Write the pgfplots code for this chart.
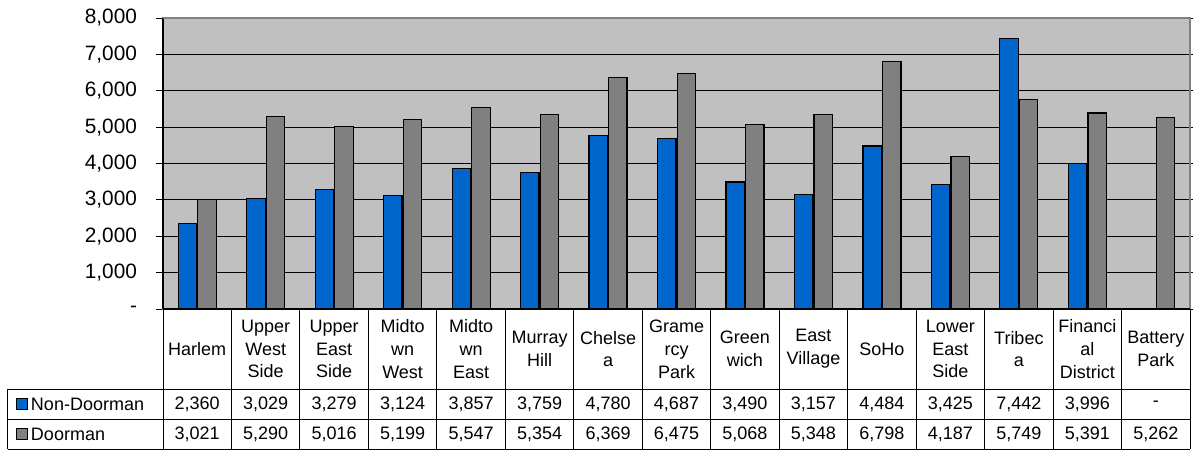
\documentclass[border=0pt]{standalone}
\usepackage{pgfplots}
\pgfplotsset{compat=1.18}
\usepackage{fontspec}
\setmainfont{Liberation Sans}
\definecolor{bblue}{HTML}{0066CC}
\definecolor{bgray}{HTML}{808080}
\definecolor{bgfill}{HTML}{C0C0C0}
\begin{document}
\begin{tikzpicture}
\path[use as bounding box] (-81.5pt,154.5pt) rectangle (515pt,-70.5pt);
\begin{axis}[at={(0pt,0pt)}, anchor=south west, scale only axis,
  width=513.5pt, height=145.5pt,
  xmin=-0.5, xmax=14.5, ymin=0, ymax=8000,
  ybar=0.6pt, bar width=9.2pt,
  xtick=\empty,
  ytick={0,1000,...,8000},
  yticklabels={-,{1,000},{2,000},{3,000},{4,000},{5,000},{6,000},{7,000},{8,000}},
  ymajorgrids, major grid style={black, line width=0.5pt},
  axis background/.style={fill=bgfill},
  axis line style={bgray, line width=0.6pt},
  tick align=outside, major tick length=3.5pt,
  ytick style={black, line width=0.5pt},
  yticklabel style={font=\fontsize{10.4}{12}\selectfont, xshift=-6pt},
  clip=false]
\addplot[fill=bblue, draw=black, line width=0.6pt] coordinates {
 (0,2360) (1,3029) (2,3279) (3,3124) (4,3857) (5,3759) (6,4780) (7,4687)
 (8,3490) (9,3157) (10,4484) (11,3425) (12,7442) (13,3996)};
\addplot[fill=bgray, draw=black, line width=0.6pt] coordinates {
 (0,3021) (1,5290) (2,5016) (3,5199) (4,5547) (5,5354) (6,6369) (7,6475)
 (8,5068) (9,5348) (10,6798) (11,4187) (12,5749) (13,5391) (14,5262)};
\draw[black, line width=0.6pt] (rel axis cs:0,0) -- (rel axis cs:0,1);
\draw[black, line width=0.6pt] (rel axis cs:0,0) -- (rel axis cs:1,0);
\draw[bgray, line width=0.6pt] (rel axis cs:0,1) -- (rel axis cs:1,1);
\end{axis}
% data table
\foreach \k in {0,...,15} \draw[line width=0.5pt] ({\k*34.2333pt},0pt) -- ({\k*34.2333pt},-70pt);
\draw[line width=0.5pt] (-77.5pt,-40pt) -- (513.5pt,-40pt);
\draw[line width=0.5pt] (-77.5pt,-55pt) -- (513.5pt,-55pt);
\draw[line width=0.5pt] (-77.5pt,-70pt) -- (513.5pt,-70pt);
\draw[line width=0.5pt] (-77.5pt,-40pt) -- (-77.5pt,-70pt);
\foreach \lab [count=\i from 0] in {Harlem,{Upper\\West\\Side},{Upper\\East\\Side},{Midto\\wn\\West},{Midto\\wn\\East},{Murray\\Hill},{Chelse\\a},{Grame\\rcy\\Park},{Green\\wich},{East\\Village},SoHo,{Lower\\East\\Side},{Tribec\\a},{Financi\\al\\District},{Battery\\Park}}
  \node[align=center, inner sep=0pt, font=\fontsize{9}{11.4}\selectfont] at ({(\i+0.5)*34.2333pt},-20pt) {\lab};
\foreach \v [count=\i from 0] in {{2,360},{3,029},{3,279},{3,124},{3,857},{3,759},{4,780},{4,687},{3,490},{3,157},{4,484},{3,425},{7,442},{3,996},-}
  \node[inner sep=0pt, font=\fontsize{9}{11}\selectfont] at ({(\i+0.5)*34.2333pt},-47.5pt) {\v};
\foreach \v [count=\i from 0] in {{3,021},{5,290},{5,016},{5,199},{5,547},{5,354},{6,369},{6,475},{5,068},{5,348},{6,798},{4,187},{5,749},{5,391},{5,262}}
  \node[inner sep=0pt, font=\fontsize{9}{11}\selectfont] at ({(\i+0.5)*34.2333pt},-62.5pt) {\v};
\fill[bblue, draw=black, line width=0.5pt] (-73.4pt,-50.2pt) rectangle (-67.9pt,-44.7pt);
\fill[bgray, draw=black, line width=0.5pt] (-73.4pt,-65.2pt) rectangle (-67.9pt,-59.7pt);
\node[anchor=west, inner sep=0pt, font=\fontsize{9}{11}\selectfont] at (-66.2pt,-47.5pt) {Non-Doorman};
\node[anchor=west, inner sep=0pt, font=\fontsize{9}{11}\selectfont] at (-66.2pt,-62.5pt) {Doorman};
\end{tikzpicture}
\end{document}
